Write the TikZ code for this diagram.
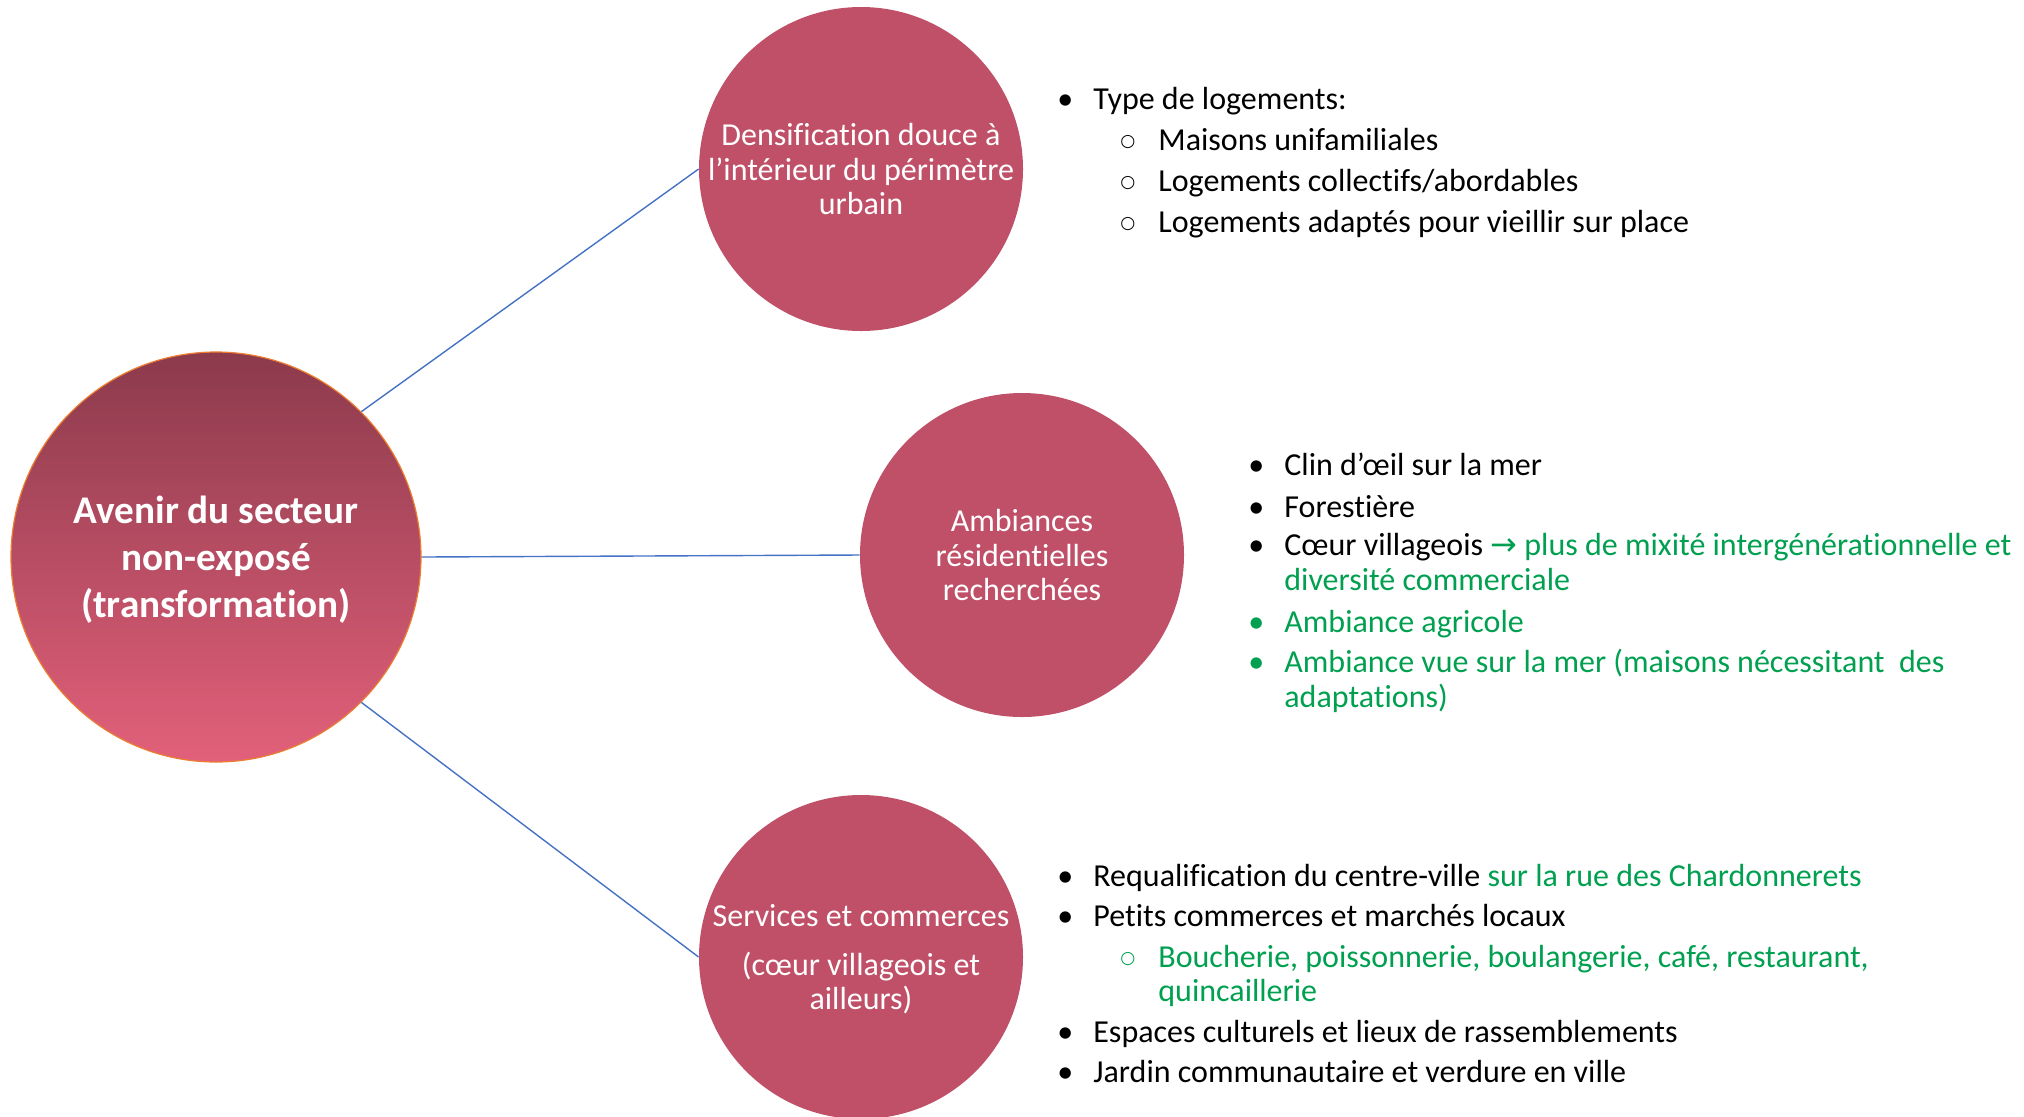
\documentclass[tikz,border=0pt]{standalone}
\usepackage{fontspec}
\setmainfont{Carlito}[Ligatures=NoCommon]
\newfontfamily\symfont{DejaVu Sans}
\usetikzlibrary{positioning}

\definecolor{bulle}{RGB}{192,80,104}
\definecolor{bullehaut}{RGB}{140,58,76}
\definecolor{bullebas}{RGB}{226,96,122}
\definecolor{trait}{RGB}{68,114,196}
\definecolor{bord}{RGB}{237,125,49}
\definecolor{vert}{RGB}{0,160,80}

\newcommand{\puce}{\makebox[18pt][l]{\textbullet}}
\newcommand{\souspuce}{\makebox[19pt][l]{\raisebox{1.6pt}{\symfont\fontsize{8.6}{8.6}\selectfont ○}}}
\newcommand{\sansprof}[1]{\raisebox{0pt}[\height][0pt]{#1}}

\begin{document}
\begin{tikzpicture}[x=0.5pt,y=-0.5pt,
    theme/.style={circle,fill=bulle,text=white,minimum size=162pt,inner sep=0pt,
        align=center,font=\fontsize{16}{17.1}\selectfont},
    item/.style={anchor=base west,inner sep=0pt,font=\fontsize{16}{17.4}\selectfont},
    lien/.style={draw=trait,line width=0.7pt}]
        \useasboundingbox (0,0) rectangle (2024,1116);
        % circles
        \node[circle,minimum size=205pt,inner sep=0pt,top color=bullehaut,bottom color=bullebas,
            draw=bord,line width=0.6pt,text=white,align=center,
            font=\bfseries\fontsize{19.6}{23.5}\selectfont] (avenir) at (216,557)
            {Avenir du secteur\\non-exposé\\\sansprof{(transformation)}};
        \node[theme] (densif) at (861,169) {Densification douce à\\l’intérieur du périmètre\\urbain};
        \node[theme] (ambiance) at (1022,555) {Ambiances\\résidentielles\\recherchées};
        \node[theme] (services) at (861,957) {Services et commerces\\[7pt](cœur villageois et\\\sansprof{ailleurs)}};
        \draw[lien] (avenir.north east) -- (densif.west);
        \draw[lien] (avenir.east) -- (ambiance.west);
        \draw[lien] (avenir.south east) -- (services.west);
        % logements
        \node[item] (dl1) at (1057,109) {\puce Type de logements:};
        \node[item] (dl2) at (1120,150) {\souspuce Maisons unifamiliales};
        \node[item] (dl3) at (1120,191) {\souspuce Logements collectifs/abordables};
        \node[item] (dl4) at (1120,232) {\souspuce Logements adaptés pour vieillir sur place};
        % ambiances
        \node[item] (al1) at (1248,475) {\puce Clin d’œil sur la mer};
        \node[item] (al2) at (1248,517) {\puce Forestière};
        \node[item] (al3) at (1248,555) {\puce Cœur villageois {\color{vert}{\symfont →} plus de mixité intergénérationnelle et}};
        \node[item,text=vert] (al4) at (1284,590) {diversité commerciale};
        \node[item,text=vert] (al5) at (1248,632) {\puce Ambiance agricole};
        \node[item,text=vert] (al6) at (1248,672) {\puce Ambiance vue sur la mer (maisons nécessitant\ \ des};
        \node[item,text=vert] (al7) at (1284,707) {adaptations)};
        % services
        \node[item] (sl1) at (1057,886) {\puce Requalification du centre-ville {\color{vert}sur la rue des Chardonnerets}};
        \node[item] (sl2) at (1057,926) {\puce Petits commerces et marchés locaux};
        \node[item,text=vert] (sl3) at (1120,967) {\souspuce Boucherie, poissonnerie, boulangerie, café, restaurant,};
        \node[item,text=vert] (sl4) at (1158,1001) {quincaillerie};
        \node[item] (sl5) at (1057,1042) {\puce Espaces culturels et lieux de rassemblements};
        \node[item] (sl6) at (1057,1082) {\puce Jardin communautaire et verdure en ville};
\end{tikzpicture}
\end{document}
